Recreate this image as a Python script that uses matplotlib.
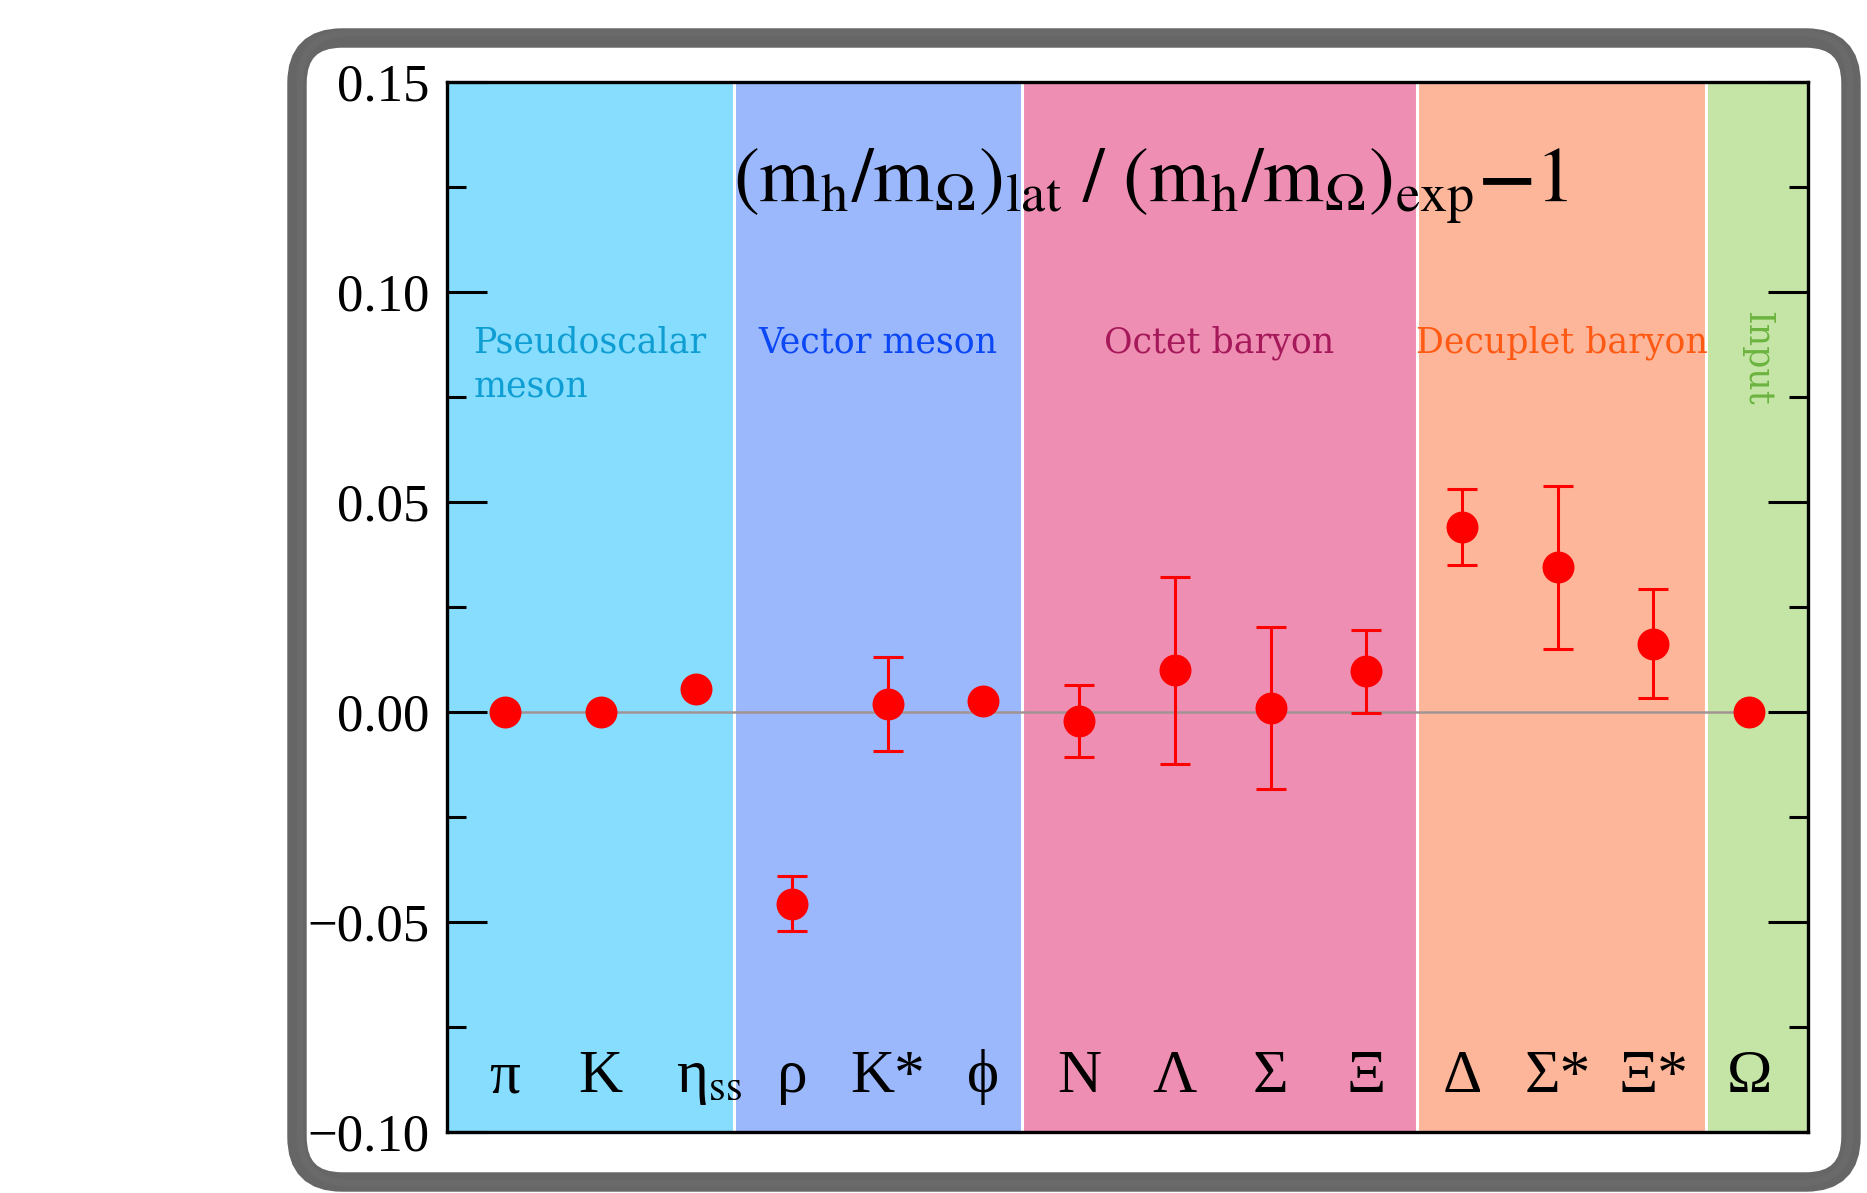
import numpy as np
import matplotlib.pyplot as plt
from matplotlib.patches import FancyBboxPatch

plt.rcParams["mathtext.fontset"] = "stix"
plt.rcParams["font.family"] = ["Liberation Serif", "DejaVu Serif"]

# hadrons and (m_h/m_Omega)_lat / (m_h/m_Omega)_exp - 1
hadrons = ["π", "K", "η$_\\mathrm{ss}$", "ρ", "K*", "ϕ", "N", "Λ", "Σ", "Ξ",
           "Δ", "Σ*", "Ξ*", "Ω"]
deviation = [0.0, 0.0, 0.0055, -0.0456, 0.0018, 0.0027, -0.0021, 0.0099,
             0.0010, 0.0097, 0.0441, 0.0345, 0.0163, 0.0]
error = [0.0, 0.0, 0.0, 0.0065, 0.0112, 0.0, 0.0086, 0.0222, 0.0193, 0.0099,
         0.0090, 0.0194, 0.0130, 0.0]

# groups of hadrons (band edges in category units)
group_names = ["Pseudoscalar\nmeson", "Vector meson", "Octet baryon",
               "Decuplet baryon", "Input"]
group_edges = [-0.61, 2.39, 5.40, 9.53, 12.55, 13.61]
group_fill = ["#86DDFD", "#9BB8FC", "#EE8EB2", "#FDB69A", "#C4E5A5"]
group_text = ["#0E9ED3", "#0B47F5", "#A5195A", "#FF5A14", "#6CB33F"]

W, H = 1867, 1193
fig = plt.figure(figsize=(W / 100, H / 100), dpi=100)

# sketchy grey frame behind everything
bg = fig.add_axes([0, 0, 1, 1])
bg.set_xlim(0, W)
bg.set_ylim(H, 0)
bg.axis("off")
bg.add_patch(FancyBboxPatch((297, 38), 1554, 1144,
                            boxstyle="round,pad=0,rounding_size=45",
                            facecolor="white", edgecolor="#666666", lw=14))
bg.add_patch(FancyBboxPatch((300, 33), 1550, 1150,
                            boxstyle="round,pad=0,rounding_size=50",
                            facecolor="none", edgecolor="#6a6a6a", lw=5))

ax = fig.add_axes([446.5 / W, 1 - 1132 / H, (1807.5 - 446.5) / W, (1132 - 82) / H])

x = np.arange(len(hadrons))
dev = np.array(deviation)
err = np.array(error)

for i, name in enumerate(group_names):
    lo, hi = group_edges[i], group_edges[i + 1]
    ax.axvspan(lo, hi, color=group_fill[i], lw=0, zorder=0)
    if name == "Input":
        ax.text((lo + hi) / 2, 0.0955, name, rotation=-90, ha="center", va="top",
                color=group_text[i], fontsize=25, family="DejaVu Serif")
    else:
        ax.text((lo + hi) / 2, 0.092, name, ha="center", va="top",
                multialignment="left", linespacing=1.4,
                color=group_text[i], fontsize=25, family="DejaVu Serif")

for edge in group_edges[1:-1]:
    ax.axvline(edge, color="white", lw=2.2, zorder=1)

ax.hlines(0, x[0], x[-1], color="#a39494", lw=1.8, zorder=2)

has_err = err > 0
ax.errorbar(x[has_err], dev[has_err], yerr=err[has_err], fmt="none",
            ecolor="red", elinewidth=2.2, capsize=11, capthick=2.2, zorder=3)
ax.plot(x, dev, "o", color="red", markersize=23, markeredgewidth=0, zorder=4)

for i, lab in enumerate(hadrons):
    xi = x[i] + (0.14 if "ss" in lab else 0.0)
    ax.text(xi, -0.0905, lab, ha="center", va="baseline", fontsize=44)

ax.text(6.75, 0.1215, r"$(\mathrm{m_h/m_\Omega})_{\mathrm{lat}}\ /\ (\mathrm{m_h/m_\Omega})_{\mathrm{exp}}\mathbf{-}\mathrm{1}$",
        ha="center", va="baseline", fontsize=56)

ax.set_xlim(group_edges[0], group_edges[-1])
ax.set_ylim(-0.10, 0.15)
ax.set_yticks([-0.10, -0.05, 0.0, 0.05, 0.10, 0.15])
ax.set_yticklabels(["−0.10", "−0.05", "0.00", "0.05", "0.10", "0.15"])
ax.set_yticks(np.arange(-0.075, 0.15, 0.05), minor=True)
ax.set_xticks([])
ax.tick_params(axis="y", which="both", direction="in", left=True, right=True,
               width=2.2, labelsize=38, pad=12)
ax.tick_params(axis="y", which="major", length=29)
ax.tick_params(axis="y", which="minor", length=14)
for sp in ax.spines.values():
    sp.set_linewidth(2.4)

fig.savefig("out.png", dpi=100)
